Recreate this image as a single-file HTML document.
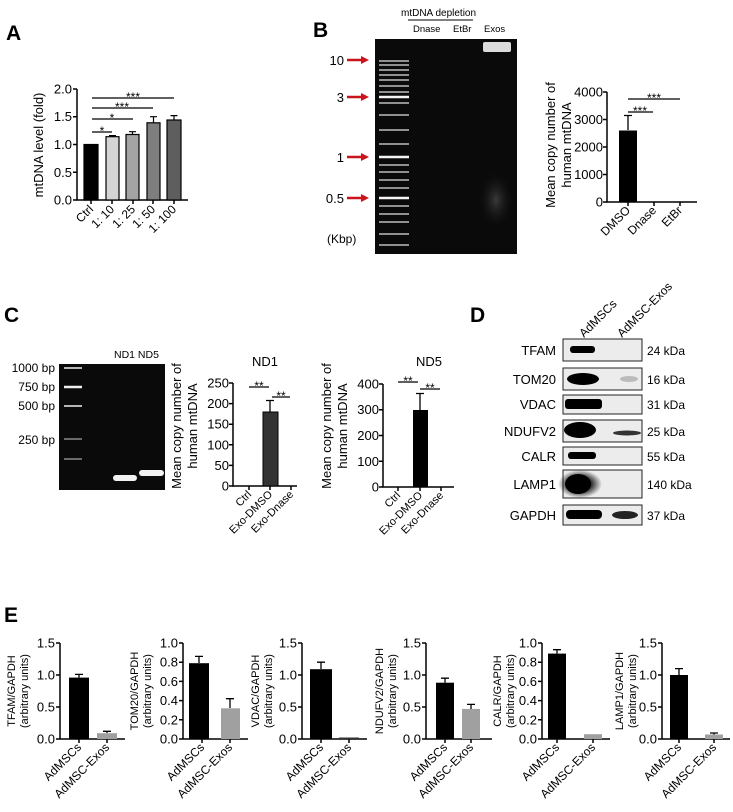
<!DOCTYPE html>
<html><head><meta charset="utf-8"><style>
body{margin:0;background:#fff}
svg{display:block;font-family:"Liberation Sans",Arial,sans-serif}
</style></head><body>
<svg width="733" height="812" viewBox="0 0 733 812" xmlns="http://www.w3.org/2000/svg">
<defs>
<radialGradient id="smear" cx="0.5" cy="0.5" r="0.5"><stop offset="0" stop-color="#3a3a3a"/><stop offset="1" stop-color="#0b0b0b" stop-opacity="0"/></radialGradient>
<radialGradient id="blk" cx="0.5" cy="0.5" r="0.5"><stop offset="0.4" stop-color="#000"/><stop offset="1" stop-color="#000" stop-opacity="0"/></radialGradient>
</defs>
<g font-weight="bold" font-size="21">
<text x="6" y="40">A</text><text x="313" y="37">B</text><text x="4" y="322">C</text><text x="470" y="322">D</text><text x="4" y="622">E</text>
</g>

<!-- Panel A -->
<g stroke="#000" stroke-width="1.5" fill="none">
<path d="M77,89V200H188"/>
<path d="M73,89H77M73,116.7H77M73,144.5H77M73,172.2H77M73,200H77"/>
<path d="M91,200v4M112,200v4M133,200v4M153,200v4M174,200v4"/>
</g>
<g stroke="#000" stroke-width="1.2">
<rect x="84" y="144.5" width="14" height="55.5" fill="#000"/>
<rect x="106" y="136.7" width="13" height="63.3" fill="#d4d4d4"/>
<rect x="126" y="134.5" width="13" height="65.5" fill="#a4a4a4"/>
<rect x="147" y="122.8" width="13" height="77.2" fill="#7e7e7e"/>
<rect x="167" y="120" width="14" height="80" fill="#5e5e5e"/>
<path d="M112.5,136.7V135.6M109,135.6h7M132.5,134.5V131.7M129,131.7h7M153.5,122.8V116.7M150,116.7h7M174,120V115.6M170.5,115.6h7" fill="none"/>
<path d="M92,98H174M92,108H153M92,119H133M92,132H112" fill="none"/>
</g>
<g font-size="12" text-anchor="middle">
<text x="133" y="101">***</text><text x="122" y="111">***</text><text x="112" y="122">*</text><text x="102" y="135">*</text>
</g>
<g font-size="13" text-anchor="end">
<text x="72" y="93.5">2.0</text><text x="72" y="121">1.5</text><text x="72" y="149">1.0</text><text x="72" y="177">0.5</text><text x="72" y="204.5">0.0</text>
</g>
<text transform="translate(43,145) rotate(-90)" font-size="13" text-anchor="middle">mtDNA level (fold)</text>
<g font-size="12" text-anchor="end">
<text transform="translate(94,210) rotate(-45)">Ctrl</text>
<text transform="translate(115,210) rotate(-45)">1: 10</text>
<text transform="translate(136,210) rotate(-45)">1: 25</text>
<text transform="translate(156,210) rotate(-45)">1: 50</text>
<text transform="translate(177,210) rotate(-45)">1: 100</text>
</g>

<!-- Panel B gel -->
<text x="401" y="16" font-size="10">mtDNA  depletion</text>
<path d="M408,20H473" stroke="#000" stroke-width="1"/>
<g font-size="9.5"><text x="413" y="32">Dnase</text><text x="453" y="32">EtBr</text><text x="484" y="32">Exos</text></g>
<rect x="375" y="39" width="142" height="215" fill="#0a0a0a"/>
<ellipse cx="496" cy="200" rx="18" ry="30" fill="url(#smear)"/>
<rect x="483" y="42" width="28" height="10" rx="2" fill="#dcdcdc"/>
<g stroke="#bdbdbd" stroke-width="1.6">
<path d="M379,61h30M379,65h30M379,70h30M379,75h30M379,80h30M379,86h30M379,92h30M379,103h30M379,115h30M379,130h30M379,144h30M379,165h30M379,172h30M379,180h30M379,188h30M379,206h30M379,214h30M379,222h30M379,234h30M379,245h30"/>
</g>
<g stroke="#f4f4f4" stroke-width="2.6"><path d="M379,97h30M379,157h30M379,198h30"/></g>
<g fill="#c8141a" stroke="#c8141a">
<path d="M347,60H362" stroke-width="2.5"/><path d="M361,56l8,4l-8,4z" stroke="none"/>
<path d="M347,97H362" stroke-width="2.5"/><path d="M361,93l8,4l-8,4z" stroke="none"/>
<path d="M347,157H362" stroke-width="2.5"/><path d="M361,153l8,4l-8,4z" stroke="none"/>
<path d="M347,198H362" stroke-width="2.5"/><path d="M361,194l8,4l-8,4z" stroke="none"/>
</g>
<g font-size="13" text-anchor="end">
<text x="344" y="65">10</text><text x="344" y="102">3</text><text x="344" y="162">1</text><text x="344" y="203">0.5</text>
</g>
<text x="327" y="243" font-size="12">(Kbp)</text>

<!-- Panel B chart -->
<g stroke="#000" stroke-width="1.5" fill="none">
<path d="M607,92V202H697"/>
<path d="M603,92h4M603,119.5h4M603,147h4M603,174.5h4M603,202h4"/>
<path d="M628,202v4M654,202v4M680,202v4"/>
</g>
<rect x="619" y="130.5" width="18" height="71.5" fill="#000"/>
<g stroke="#000" stroke-width="1.3" fill="none"><path d="M628,130V115.5M624,115.5h8M628,99H680M628,112H653"/></g>
<g font-size="12" text-anchor="middle"><text x="654" y="102">***</text><text x="640" y="115">***</text></g>
<g font-size="13" text-anchor="end">
<text x="603" y="96.5">4000</text><text x="603" y="124">3000</text><text x="603" y="151.5">2000</text><text x="603" y="179">1000</text><text x="603" y="206.5">0</text>
</g>
<g font-size="13" text-anchor="middle">
<text transform="translate(555,145) rotate(-90)">Mean copy number of</text>
<text transform="translate(571,145) rotate(-90)">human mtDNA</text>
</g>
<g font-size="12" text-anchor="end">
<text transform="translate(631,211) rotate(-45)">DMSO</text>
<text transform="translate(657,211) rotate(-45)">Dnase</text>
<text transform="translate(683,211) rotate(-45)">EtBr</text>
</g>

<!-- Panel C gel -->
<rect x="59" y="364" width="106" height="126" fill="#0a0a0a"/>
<g stroke="#cfcfcf" stroke-width="1.8"><path d="M64,368h18M64,406h18"/></g>
<path d="M64,387h18" stroke="#eee" stroke-width="2.5"/>
<g stroke="#8a8a8a" stroke-width="1.5"><path d="M64,439h18M64,459h18"/></g>
<rect x="113" y="475" width="24" height="6" rx="3" fill="#f2f2f2"/>
<rect x="139" y="470" width="25" height="6" rx="3" fill="#f2f2f2"/>
<text x="114" y="358" font-size="10.5">ND1 ND5</text>
<g font-size="12" text-anchor="end">
<text x="55" y="372">1000 bp</text><text x="55" y="391">750 bp</text><text x="55" y="410">500 bp</text><text x="55" y="444">250 bp</text>
</g>

<!-- ND1 chart -->
<text x="265" y="366" font-size="13" text-anchor="middle">ND1</text>
<g stroke="#000" stroke-width="1.5" fill="none">
<path d="M233,383V486H297"/>
<path d="M229,383h4M229,403.6h4M229,424.2h4M229,444.8h4M229,465.4h4M229,486h4"/>
<path d="M249,486v4M270,486v4M291,486v4"/>
</g>
<rect x="263" y="412" width="15" height="74" fill="#333" stroke="#000"/>
<g stroke="#000" stroke-width="1.3" fill="none"><path d="M270,412V400.5M266,400.5h8M249,387H269M272,397H290"/></g>
<g font-size="12" text-anchor="middle"><text x="259" y="390">**</text><text x="281" y="400">**</text></g>
<g font-size="13" text-anchor="end">
<text x="229" y="387.5">250</text><text x="229" y="408">200</text><text x="229" y="428.7">150</text><text x="229" y="449.3">100</text><text x="229" y="470">50</text><text x="229" y="490.5">0</text>
</g>
<g font-size="13" text-anchor="middle">
<text transform="translate(181,426) rotate(-90)">Mean copy number of</text>
<text transform="translate(197,426) rotate(-90)">human mtDNA</text>
</g>
<g font-size="11" text-anchor="end">
<text transform="translate(252,495) rotate(-45)">Ctrl</text>
<text transform="translate(273,495) rotate(-45)">Exo-DMSO</text>
<text transform="translate(294,495) rotate(-45)">Exo-Dnase</text>
</g>

<!-- ND5 chart -->
<text x="429" y="366" font-size="13" text-anchor="middle">ND5</text>
<g stroke="#000" stroke-width="1.5" fill="none">
<path d="M383,384V487H454"/>
<path d="M379,384h4M379,409.8h4M379,435.5h4M379,461.3h4M379,487h4"/>
<path d="M398,487v4M420,487v4M441,487v4"/>
</g>
<rect x="413" y="410" width="15" height="77" fill="#000"/>
<g stroke="#000" stroke-width="1.3" fill="none"><path d="M420,410V393.5M416,393.5h8M398,382H418M420,389H440"/></g>
<g font-size="12" text-anchor="middle"><text x="408" y="385">**</text><text x="430" y="392">**</text></g>
<g font-size="13" text-anchor="end">
<text x="379" y="388.5">400</text><text x="379" y="414">300</text><text x="379" y="440">200</text><text x="379" y="465.8">100</text><text x="379" y="491.5">0</text>
</g>
<g font-size="13" text-anchor="middle">
<text transform="translate(331,426) rotate(-90)">Mean copy number of</text>
<text transform="translate(347,426) rotate(-90)">human mtDNA</text>
</g>
<g font-size="11" text-anchor="end">
<text transform="translate(401,496) rotate(-45)">Ctrl</text>
<text transform="translate(423,496) rotate(-45)">Exo-DMSO</text>
<text transform="translate(444,496) rotate(-45)">Exo-Dnase</text>
</g>

<!-- Panel D -->
<g font-size="12">
<text transform="translate(584,338) rotate(-45)">AdMSCs</text>
<text transform="translate(622,338) rotate(-45)">AdMSC-Exos</text>
</g>
<g fill="#ececec" stroke="#222" stroke-width="1">
<rect x="563" y="339" width="79" height="22"/>
<rect x="563" y="368" width="79" height="22"/>
<rect x="563" y="395" width="79" height="19"/>
<rect x="563" y="420" width="79" height="22"/>
<rect x="563" y="447" width="79" height="18"/>
<rect x="563" y="470" width="79" height="28"/>
<rect x="563" y="505" width="79" height="20"/>
</g>
<g fill="#000">
<rect x="570" y="346" width="25" height="7" rx="3"/>
<ellipse cx="583" cy="379" rx="16" ry="6"/>
<ellipse cx="629" cy="379" rx="9" ry="3" fill="#bbb"/>
<rect x="565" y="399" width="37" height="10" rx="3"/>
<ellipse cx="580" cy="430" rx="16" ry="8"/>
<ellipse cx="627" cy="433" rx="14" ry="2.5" fill="#333"/>
<rect x="568" y="452" width="28" height="7" rx="3"/>
<ellipse cx="580" cy="484" rx="22" ry="14" fill="url(#blk)"/>
<ellipse cx="578" cy="484" rx="13" ry="10"/>
<rect x="566" y="510" width="36" height="9" rx="4"/>
<ellipse cx="625" cy="515" rx="13" ry="4" fill="#222"/>
</g>
<g font-size="13" text-anchor="end">
<text x="556" y="355">TFAM</text><text x="556" y="384">TOM20</text><text x="556" y="409">VDAC</text><text x="556" y="436">NDUFV2</text><text x="556" y="461">CALR</text><text x="556" y="489">LAMP1</text><text x="556" y="520">GAPDH</text>
</g>
<g font-size="12">
<text x="647" y="355">24 kDa</text><text x="647" y="384">16 kDa</text><text x="647" y="409">31 kDa</text><text x="647" y="436">25 kDa</text><text x="647" y="461">55 kDa</text><text x="647" y="489">140 kDa</text><text x="647" y="520">37 kDa</text>
</g>

<!-- Panel E charts -->
<!-- chart 1 TFAM -->
<g transform="translate(60,0)">
<g stroke="#000" stroke-width="1.5" fill="none"><path d="M0,643V739H65M-4,643h4M-4,675h4M-4,707h4M-4,739h4M19,739v4M47,739v4"/></g>
<rect x="9" y="677.6" width="20" height="61.4"/><rect x="37" y="733.2" width="20" height="5.8" fill="#a0a0a0"/>
<path d="M19,677.6V674.4M15,674.4h8M47,733V731.3M43,731.3h8" stroke="#000" stroke-width="1.3"/>
<g font-size="13" text-anchor="end"><text x="-5" y="647.5">1.5</text><text x="-5" y="679.5">1.0</text><text x="-5" y="711.5">0.5</text><text x="-5" y="743.5">0.0</text></g>
<g font-size="11" text-anchor="middle"><text transform="translate(-45,691) rotate(-90)">TFAM/GAPDH</text><text transform="translate(-32,691) rotate(-90)">(arbitrary units)</text></g>
<g font-size="12" text-anchor="end"><text transform="translate(22,748) rotate(-45)">AdMSCs</text><text transform="translate(50,748) rotate(-45)">AdMSC-Exos</text></g>
</g>
<!-- chart 2 TOM20 -->
<g transform="translate(183,0)">
<g stroke="#000" stroke-width="1.5" fill="none"><path d="M0,643V739H65M-4,643h4M-4,662.2h4M-4,681.4h4M-4,700.6h4M-4,719.8h4M-4,739h4M19,739v4M47,739v4"/></g>
<rect x="6" y="663.2" width="20" height="75.8"/><rect x="38" y="708.3" width="19" height="30.7" fill="#a0a0a0"/>
<path d="M16,663V656.4M12,656.4h8M47,708V698.7M43,698.7h8" stroke="#000" stroke-width="1.3"/>
<g font-size="13" text-anchor="end"><text x="-5" y="647.5">1.0</text><text x="-5" y="666.7">0.8</text><text x="-5" y="685.9">0.6</text><text x="-5" y="705.1">0.4</text><text x="-5" y="724.3">0.2</text><text x="-5" y="743.5">0.0</text></g>
<g font-size="11" text-anchor="middle"><text transform="translate(-45,691) rotate(-90)">TOM20/GAPDH</text><text transform="translate(-32,691) rotate(-90)">(arbitrary units)</text></g>
<g font-size="12" text-anchor="end"><text transform="translate(22,748) rotate(-45)">AdMSCs</text><text transform="translate(50,748) rotate(-45)">AdMSC-Exos</text></g>
</g>
<!-- chart 3 VDAC -->
<g transform="translate(302,0)">
<g stroke="#000" stroke-width="1.5" fill="none"><path d="M0,643V739H65M-4,643h4M-4,675h4M-4,707h4M-4,739h4M19,739v4M47,739v4"/></g>
<rect x="8" y="669.2" width="22" height="69.8"/><rect x="37" y="737.5" width="20" height="1.5" fill="#333"/>
<path d="M19,669V662.2M15,662.2h8" stroke="#000" stroke-width="1.3"/>
<g font-size="13" text-anchor="end"><text x="-5" y="647.5">1.5</text><text x="-5" y="679.5">1.0</text><text x="-5" y="711.5">0.5</text><text x="-5" y="743.5">0.0</text></g>
<g font-size="11" text-anchor="middle"><text transform="translate(-43,691) rotate(-90)">VDAC/GAPDH</text><text transform="translate(-30,691) rotate(-90)">(arbitrary units)</text></g>
<g font-size="12" text-anchor="end"><text transform="translate(22,748) rotate(-45)">AdMSCs</text><text transform="translate(50,748) rotate(-45)">AdMSC-Exos</text></g>
</g>
<!-- chart 4 NDUFV2 -->
<g transform="translate(426,0)">
<g stroke="#000" stroke-width="1.5" fill="none"><path d="M0,643V739H66M-4,643h4M-4,675h4M-4,707h4M-4,739h4M19,739v4M45,739v4"/></g>
<rect x="10" y="682.7" width="18" height="56.3"/><rect x="36" y="708.9" width="18" height="30.1" fill="#a0a0a0"/>
<path d="M19,682.7V678.2M15,678.2h8M45,709V704.4M41,704.4h8" stroke="#000" stroke-width="1.3"/>
<g font-size="13" text-anchor="end"><text x="-5" y="647.5">1.5</text><text x="-5" y="679.5">1.0</text><text x="-5" y="711.5">0.5</text><text x="-5" y="743.5">0.0</text></g>
<g font-size="11" text-anchor="middle"><text transform="translate(-43,691) rotate(-90)">NDUFV2/GAPDH</text><text transform="translate(-30,691) rotate(-90)">(arbitrary units)</text></g>
<g font-size="12" text-anchor="end"><text transform="translate(22,748) rotate(-45)">AdMSCs</text><text transform="translate(48,748) rotate(-45)">AdMSC-Exos</text></g>
</g>
<!-- chart 5 CALR -->
<g transform="translate(542,0)">
<g stroke="#000" stroke-width="1.5" fill="none"><path d="M0,643V739H68M-4,643h4M-4,662.2h4M-4,681.4h4M-4,700.6h4M-4,719.8h4M-4,739h4M15,739v4M51,739v4"/></g>
<rect x="6" y="653.6" width="18" height="85.4"/><rect x="42" y="734.2" width="18" height="4.8" fill="#a0a0a0"/>
<path d="M15,653.6V649.7M11,649.7h8" stroke="#000" stroke-width="1.3"/>
<g font-size="13" text-anchor="end"><text x="-5" y="647.5">1.0</text><text x="-5" y="666.7">0.8</text><text x="-5" y="685.9">0.6</text><text x="-5" y="705.1">0.4</text><text x="-5" y="724.3">0.2</text><text x="-5" y="743.5">0.0</text></g>
<g font-size="11" text-anchor="middle"><text transform="translate(-41,691) rotate(-90)">CALR/GAPDH</text><text transform="translate(-28,691) rotate(-90)">(arbitrary units)</text></g>
<g font-size="12" text-anchor="end"><text transform="translate(18,748) rotate(-45)">AdMSCs</text><text transform="translate(54,748) rotate(-45)">AdMSC-Exos</text></g>
</g>
<!-- chart 6 LAMP1 -->
<g transform="translate(662,0)">
<g stroke="#000" stroke-width="1.5" fill="none"><path d="M0,643V739H68M-4,643h4M-4,675h4M-4,707h4M-4,739h4M17,739v4M52,739v4"/></g>
<rect x="8" y="675" width="18" height="64"/><rect x="43" y="734.5" width="18" height="4.5" fill="#a0a0a0"/>
<path d="M17,675V668.6M13,668.6h8M52,734.5V733M48,733h8" stroke="#000" stroke-width="1.3"/>
<g font-size="13" text-anchor="end"><text x="-5" y="647.5">1.5</text><text x="-5" y="679.5">1.0</text><text x="-5" y="711.5">0.5</text><text x="-5" y="743.5">0.0</text></g>
<g font-size="11" text-anchor="middle"><text transform="translate(-39,691) rotate(-90)">LAMP1/GAPDH</text><text transform="translate(-26,691) rotate(-90)">(arbitrary units)</text></g>
<g font-size="12" text-anchor="end"><text transform="translate(20,748) rotate(-45)">AdMSCs</text><text transform="translate(55,748) rotate(-45)">AdMSC-Exos</text></g>
</g>
</svg>
</body></html>
